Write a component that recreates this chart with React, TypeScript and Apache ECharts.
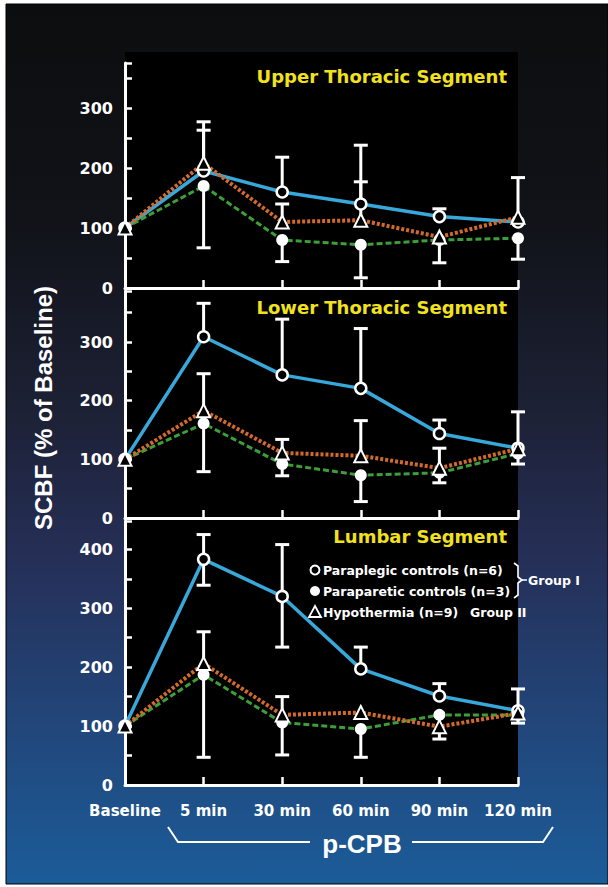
import React, { useEffect, useRef } from "react";
import * as echarts from "echarts";

const categories = ["Baseline", "5 min", "30 min", "60 min", "90 min", "120 min"];
const yTickLabels = [0, 100, 200, 300, 400];

// Upper thoracic segment
const upperParaplegic = [100, 195, 160, 140, 119, 110];
const upperParaparetic = [100, 170, 80, 72, 80, 83];
const upperHypothermia = [100, 208, 110, 113, 85, 118];
const upperParaplegicHi = [null, 277, 218, 238, 132, 184];
const upperHypothermiaHi = [null, 263, 140, 177, null, null];
const upperParapareticLo = [null, 67, 44, 17, 42, 48];

// Lower thoracic segment
const lowerParaplegic = [100, 309, 244, 221, 144, 119];
const lowerParaparetic = [100, 161, 92, 73, 77, 110];
const lowerHypothermia = [100, 183, 111, 106, 85, 118];
const lowerParaplegicHi = [null, 366, 339, 323, 167, 181];
const lowerHypothermiaHi = [null, 246, 134, 166, 119, null];
const lowerParapareticLo = [null, 79, 72, 28, 60, 92];

// Lumbar segment
const lumbarParaplegic = [100, 383, 320, 197, 151, 126];
const lumbarParaparetic = [100, 187, 106, 95, 119, 119];
const lumbarHypothermia = [100, 206, 119, 123, 99, 122];
const lumbarParaplegicHi = [null, 425, 408, 234, 172, 163];
const lumbarParaplegicLo = [null, 339, 234, null, null, null];
const lumbarHypothermiaHi = [null, 260, 150, null, null, null];
const lumbarParapareticLo = [null, 47, 51, 47, 78, 105];

const panelTitles = ["Upper Thoracic Segment", "Lower Thoracic Segment", "Lumbar Segment"];
const legendNames = ["Paraplegic controls (n=6)", "Paraparetic controls (n=3)", "Hypothermia (n=9)"];

const FONT = '"Liberation Sans", Arial, sans-serif';
const WIDE = '"DejaVu Sans", Verdana, sans-serif';
const BLUE = "#38a7d9";
const GREEN = "#3d9e3a";
const ORANGE = "#d36a2a";

type Panel = {
  para: number[];
  paret: number[];
  hypo: number[];
  bars: [number[], (number | null)[]][];
};

const panels: Panel[] = [
  {
    para: upperParaplegic, paret: upperParaparetic, hypo: upperHypothermia,
    bars: [[upperParaplegic, upperParaplegicHi], [upperHypothermia, upperHypothermiaHi], [upperParaparetic, upperParapareticLo]],
  },
  {
    para: lowerParaplegic, paret: lowerParaparetic, hypo: lowerHypothermia,
    bars: [[lowerParaplegic, lowerParaplegicHi], [lowerHypothermia, lowerHypothermiaHi], [lowerParaparetic, lowerParapareticLo]],
  },
  {
    para: lumbarParaplegic, paret: lumbarParaparetic, hypo: lumbarHypothermia,
    bars: [[lumbarParaplegic, lumbarParaplegicHi], [lumbarParaplegic, lumbarParaplegicLo], [lumbarHypothermia, lumbarHypothermiaHi], [lumbarParaparetic, lumbarParapareticLo]],
  },
];

const grids = [
  { left: 125, right: 90, top: 63, height: 225 },
  { left: 125, right: 90, top: 291, height: 227 },
  { left: 125, right: 90, top: 521, height: 264 },
];
const yMax = [375, 387, 448];
const titleTops = [67, 298, 527];

export default function App() {
  const ref = useRef<HTMLDivElement>(null);
  useEffect(() => {
    if (!ref.current) return;
    const chart = echarts.init(ref.current, null, { renderer: "svg" });

    const xAxis: any[] = [];
    const yAxis: any[] = [];
    const series: any[] = [];

    panels.forEach((p, gi) => {
      xAxis.push({
        type: "category",
        gridIndex: gi,
        data: categories,
        boundaryGap: false,
        axisLine: { lineStyle: { color: "#fff", width: 3 } },
        axisTick: { inside: true, length: 8, lineStyle: { color: "#fff", width: 2.5 } },
        axisLabel: {
          show: gi === 2,
          color: "#fff",
          fontSize: 15,
          fontWeight: "bold",
          fontFamily: WIDE,
          margin: 18,
          interval: 0,
        },
        splitLine: { show: false },
      });
      yAxis.push({
        type: "value",
        gridIndex: gi,
        min: 0,
        max: yMax[gi],
        interval: 50,
        axisLine: { show: true, lineStyle: { color: "#fff", width: 3 } },
        axisTick: { show: true, inside: true, length: 7, lineStyle: { color: "#fff", width: 2.5 } },
        axisLabel: {
          color: "#fff",
          fontSize: 16,
          fontWeight: "bold",
          fontFamily: WIDE,
          margin: 12,
          formatter: (v: number) => (yTickLabels.includes(v) ? String(v) : ""),
        },
        splitLine: { show: false },
      });

      const lineDefs = [
        { name: legendNames[0], data: p.para, color: BLUE, type: "solid", width: 3.5 },
        { name: legendNames[1], data: p.paret, color: GREEN, type: [6, 3], width: 3 },
        { name: legendNames[2], data: p.hypo, color: ORANGE, type: [3, 2], width: 4 },
      ];
      lineDefs.forEach((d) => {
        series.push({
          type: "line",
          name: d.name,
          xAxisIndex: gi,
          yAxisIndex: gi,
          data: d.data,
          showSymbol: false,
          z: 2,
          lineStyle: { color: d.color, width: d.width, type: d.type },
        });
      });

      const barData: number[][] = [];
      p.bars.forEach(([mean, ends]) => {
        ends.forEach((e, i) => {
          if (e !== null) barData.push([i, mean[i], e]);
        });
      });
      series.push({
        type: "custom",
        xAxisIndex: gi,
        yAxisIndex: gi,
        z: 3,
        data: barData,
        encode: { x: 0, y: [1, 2] },
        renderItem: (params: any, api: any) => {
          const x = api.value(0);
          const p0 = api.coord([x, api.value(1)]);
          const p1 = api.coord([x, api.value(2)]);
          const hw = 7;
          return {
            type: "group",
            children: [
              { type: "line", shape: { x1: p0[0], y1: p0[1], x2: p1[0], y2: p1[1] }, style: { stroke: "#fff", lineWidth: 3 } },
              { type: "line", shape: { x1: p1[0] - hw, y1: p1[1], x2: p1[0] + hw, y2: p1[1] }, style: { stroke: "#fff", lineWidth: 3 } },
            ],
          };
        },
      });

      const markerDefs = [
        { data: p.para, symbol: "circle", size: 11, fill: "#000", border: "#fff", bw: 2.5 },
        { data: p.paret, symbol: "circle", size: 12, fill: "#fff", border: "#fff", bw: 0 },
        { data: p.hypo, symbol: "triangle", size: 13, fill: "#000", border: "#fff", bw: 2 },
      ];
      markerDefs.forEach((m) => {
        series.push({
          type: "scatter",
          xAxisIndex: gi,
          yAxisIndex: gi,
          data: m.data,
          symbol: m.symbol,
          symbolSize: m.size,
          z: 4,
          itemStyle: { color: m.fill, borderColor: m.border, borderWidth: m.bw, opacity: 1 },
        });
      });
    });

    const legendText = (text: string, x: number, y: number) => ({
      type: "text",
      z: 20,
      style: { text, x, y, fill: "#fff", font: `bold 12.5px ${WIDE}`, textVerticalAlign: "middle" },
    });

    const option: any = {
      animation: false,
      backgroundColor: "#fff",
      title: panelTitles.map((t, i) => ({
        text: t,
        right: 101,
        top: titleTops[i],
        padding: 0,
        textStyle: { color: "#f2e21e", fontSize: 18, fontWeight: "bold", fontFamily: WIDE },
      })),
      grid: grids.map((g) => ({ ...g, containLabel: false, outerBoundsMode: "none" })),
      xAxis,
      yAxis,
      series,
      graphic: [
        {
          type: "rect",
          z: -10,
          shape: { x: 6, y: 4, width: 602, height: 880 },
          style: {
            fill: new echarts.graphic.LinearGradient(0, 0, 0, 1, [
              { offset: 0, color: "#0b0d0e" },
              { offset: 0.25, color: "#111319" },
              { offset: 0.45, color: "#1c2033" },
              { offset: 0.62, color: "#252e55" },
              { offset: 0.8, color: "#224477" },
              { offset: 1, color: "#1b5c99" },
            ]),
            stroke: "#000",
            lineWidth: 1,
          },
        },
        {
          type: "rect",
          z: -9,
          shape: { x: 125, y: 52, width: 393, height: 734 },
          style: { fill: "#000" },
        },
        {
          type: "text",
          z: 20,
          rotation: Math.PI / 2,
          x: 43,
          y: 408,
          style: {
            text: "SCBF (% of Baseline)",
            fill: "#fff",
            font: `bold 24px ${FONT}`,
            textAlign: "center",
            textVerticalAlign: "middle",
          },
        },
        // legend markers
        { type: "circle", z: 20, shape: { cx: 315, cy: 570, r: 4.5 }, style: { fill: "#000", stroke: "#fff", lineWidth: 2 } },
        { type: "circle", z: 20, shape: { cx: 315, cy: 591, r: 5 }, style: { fill: "#fff" } },
        { type: "polygon", z: 20, shape: { points: [[315, 606], [309, 617], [321, 617]] }, style: { fill: "#000", stroke: "#fff", lineWidth: 1.8 } },
        legendText(legendNames[0], 323, 570),
        legendText(legendNames[1], 323, 591),
        legendText(legendNames[2], 323, 612),
        legendText("Group II", 470, 612),
        {
          type: "polyline",
          z: 20,
          shape: { points: [[514, 563], [518, 566], [518, 577], [522, 580], [518, 583], [518, 595], [514, 598]] },
          style: { stroke: "#fff", lineWidth: 1.6, fill: null },
        },
        { type: "line", z: 20, shape: { x1: 522, y1: 580, x2: 527, y2: 580 }, style: { stroke: "#fff", lineWidth: 1.5 } },
        legendText("Group I", 528, 580),
        // p-CPB bracket
        {
          type: "polyline",
          z: 20,
          shape: { points: [[168, 827], [178, 842], [310, 842]] },
          style: { stroke: "#fff", lineWidth: 2, fill: null },
        },
        {
          type: "polyline",
          z: 20,
          shape: { points: [[412, 842], [543, 842], [553, 827]] },
          style: { stroke: "#fff", lineWidth: 2, fill: null },
        },
        {
          type: "text",
          z: 20,
          style: {
            text: "p-CPB",
            x: 362,
            y: 844,
            fill: "#fff",
            font: `bold 26px ${FONT}`,
            textAlign: "center",
            textVerticalAlign: "middle",
          },
        },
      ],
    };
    chart.setOption(option);
    return () => chart.dispose();
  }, []);

  return <div ref={ref} style={{ position: "absolute", left: 0, top: 0, width: 608, height: 887 }} />;
}
